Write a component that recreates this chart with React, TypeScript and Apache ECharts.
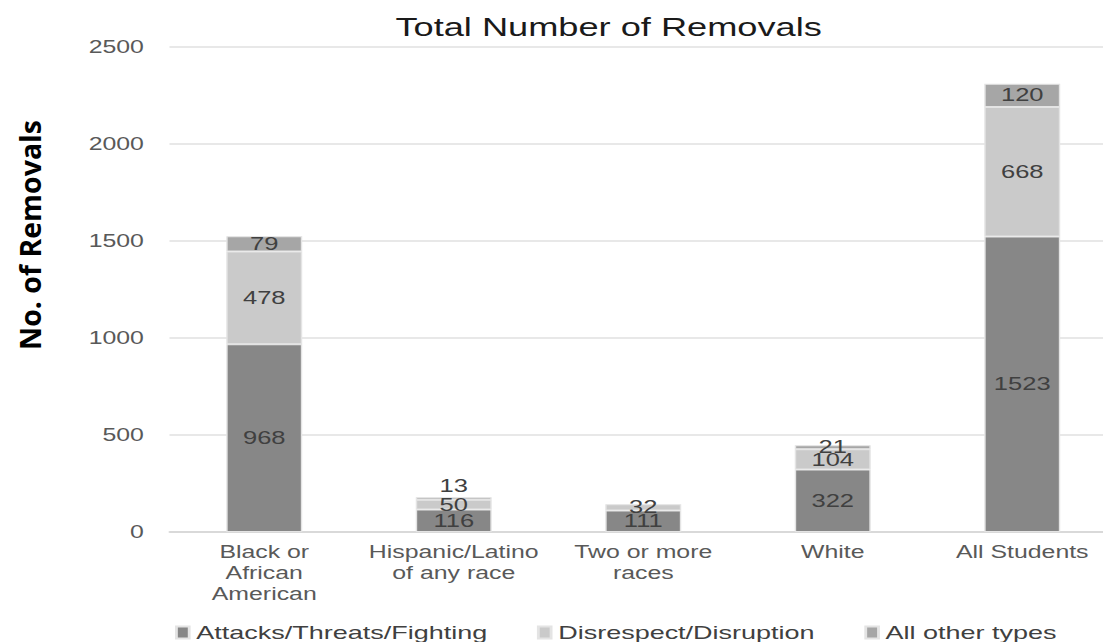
import React, { useEffect, useRef } from "react";
import * as echarts from "echarts";

const categories = ["Black or\nAfrican\nAmerican", "Hispanic/Latino\nof any race", "Two or more\nraces", "White", "All Students"];
const attacks = [968, 116, 111, 322, 1523];
const disrespect = [478, 50, 32, 104, 668];
const otherTypes: (number | null)[] = [79, 13, null, 21, 120];
const yTicks = { min: 0, max: 2500, interval: 500 };

// The reference image is stretched horizontally; reproduce that stretch.
const STRETCH = 1.42;
const BASE_W = 1140 / STRETCH;
const FONT = "'Liberation Sans', Arial, sans-serif";

export default function App() {
  const ref = useRef<HTMLDivElement>(null);
  useEffect(() => {
    document.body.style.margin = "0";
    const chart = echarts.init(ref.current!, undefined, { renderer: "svg" });
    const labelBase = {
      show: true,
      position: "inside" as const,
      color: "#404040",
      fontSize: 18,
      fontFamily: FONT,
    };
    chart.setOption({
      animation: false,
      backgroundColor: "#ffffff",
      textStyle: { fontFamily: FONT },
      title: {
        text: "Total Number of Removals",
        left: 601.5 / STRETCH,
        top: 9,
        textAlign: "center",
        textStyle: { fontSize: 25.5, fontWeight: "normal", color: "#1a1a1a", fontFamily: FONT },
      },
      graphic: [
        {
          type: "text",
          x: 30 / STRETCH,
          y: 235,
          rotation: Math.PI / 2,
          scaleY: 1 / STRETCH,
          style: {
            text: "No. of Removals",
            fontSize: 28.5,
            fontWeight: "bold",
            fill: "#000",
            fontFamily: "'Open Sans', 'Liberation Sans', sans-serif",
            align: "center",
            verticalAlign: "middle",
          },
        },
      ],
      legend: {
        top: 618,
        left: 175 / STRETCH - 5,
        itemWidth: 9,
        itemHeight: 12,
        itemGap: 35,
        icon: "rect",
        textStyle: { fontSize: 19, color: "#404040", fontFamily: FONT },
        data: ["Attacks/Threats/Fighting", "Disrespect/Disruption", "All other types"],
      },
      grid: { left: 169.5 / STRETCH, width: 947.5 / STRETCH, top: 47, bottom: 110, containLabel: false },
      xAxis: {
        type: "category",
        data: categories,
        axisTick: { show: false },
        axisLine: { lineStyle: { color: "#d4d4d4", width: 1.5 } },
        axisLabel: { fontSize: 17.5, color: "#595959", lineHeight: 21, margin: 10, interval: 0, fontFamily: FONT },
      },
      yAxis: {
        type: "value",
        min: yTicks.min,
        max: yTicks.max,
        interval: yTicks.interval,
        axisLine: { show: false },
        axisTick: { show: false },
        splitLine: { lineStyle: { color: "#e0e0e0", width: 1.5 } },
        axisLabel: { fontSize: 17.5, color: "#595959", margin: 18, formatter: (v: number) => String(v), fontFamily: FONT },
      },
      series: [
        {
          name: "Attacks/Threats/Fighting",
          type: "bar",
          stack: "s",
          barWidth: 76 / STRETCH,
          data: attacks,
          itemStyle: { color: "#878787", borderColor: "#e4e4e4", borderWidth: 1 },
          label: labelBase,
        },
        {
          name: "Disrespect/Disruption",
          type: "bar",
          stack: "s",
          data: disrespect,
          itemStyle: { color: "#cacaca", borderColor: "#e4e4e4", borderWidth: 1 },
          label: labelBase,
        },
        {
          name: "All other types",
          type: "bar",
          stack: "s",
          data: otherTypes.map((v, i) =>
            i === 1
              ? { value: v, label: { position: "top", distance: 2 } }
              : { value: v }
          ),
          itemStyle: { color: "#a6a6a6", borderColor: "#e4e4e4", borderWidth: 1 },
          label: labelBase,
        },
      ],
    });
    return () => chart.dispose();
  }, []);
  return (
    <div style={{ width: 1103, height: 642, overflow: "hidden" }}>
      <div
        ref={ref}
        style={{
          width: BASE_W,
          height: 642,
          transform: `scaleX(${STRETCH})`,
          transformOrigin: "0 0",
        }}
      />
    </div>
  );
}
